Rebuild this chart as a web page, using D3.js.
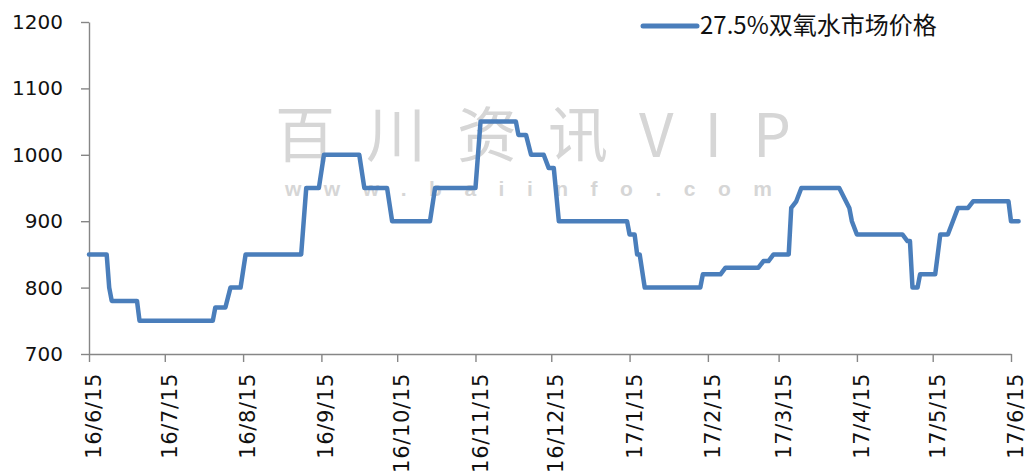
<!DOCTYPE html>
<html>
<head>
<meta charset="utf-8">
<script src="https://cdn.jsdelivr.net/npm/d3@7"></script>
<style>
  body { margin: 0; background: #fff; }
  svg { display: block; }
</style>
</head>
<body>
<div id="chart"></div>
<script>
'use strict';

/* data */
var seriesName = '27.5%双氧水市场价格';
var dates = [
  '2016-06-15', '2016-06-22', '2016-06-23', '2016-06-24', '2016-07-04', '2016-07-05',
  '2016-08-03', '2016-08-04', '2016-08-08', '2016-08-10', '2016-08-14', '2016-08-16',
  '2016-09-07', '2016-09-09', '2016-09-14', '2016-09-16', '2016-09-30', '2016-10-02',
  '2016-10-11', '2016-10-13', '2016-10-28', '2016-10-30', '2016-11-15', '2016-11-17',
  '2016-12-01', '2016-12-02', '2016-12-05', '2016-12-07', '2016-12-12', '2016-12-14',
  '2016-12-16', '2016-12-18', '2017-01-14', '2017-01-15', '2017-01-17', '2017-01-18',
  '2017-01-19', '2017-01-21', '2017-02-12', '2017-02-13', '2017-02-20', '2017-02-22',
  '2017-03-07', '2017-03-09', '2017-03-11', '2017-03-13', '2017-03-19', '2017-03-20',
  '2017-03-22', '2017-03-24', '2017-04-08', '2017-04-12', '2017-04-13', '2017-04-15',
  '2017-05-03', '2017-05-05', '2017-05-06', '2017-05-07', '2017-05-09', '2017-05-10',
  '2017-05-16', '2017-05-18', '2017-05-21', '2017-05-23', '2017-05-25', '2017-05-29',
  '2017-05-31', '2017-06-14', '2017-06-15', '2017-06-18'
];
var prices = [
  850, 850, 800, 780, 780, 750,
  750, 770, 770, 800, 800, 850,
  850, 950, 950, 1000, 1000, 950,
  950, 900, 900, 950, 950, 1050,
  1050, 1030, 1030, 1000, 1000, 980,
  980, 900, 900, 880, 880, 850,
  850, 800, 800, 820, 820, 830,
  830, 840, 840, 850, 850, 920,
  930, 950, 950, 920, 900, 880,
  880, 870, 870, 800, 800, 820,
  820, 880, 880, 900, 920, 920,
  930, 930, 900, 900
];
var xTickDates = [
  '2016-06-15', '2016-07-15', '2016-08-15', '2016-09-15', '2016-10-15', '2016-11-15',
  '2016-12-15', '2017-01-15', '2017-02-15', '2017-03-15', '2017-04-15', '2017-05-15',
  '2017-06-15'
];
var xTickLabels = [
  '16/6/15', '16/7/15', '16/8/15', '16/9/15', '16/10/15', '16/11/15',
  '16/12/15', '17/1/15', '17/2/15', '17/3/15', '17/4/15', '17/5/15', '17/6/15'
];
var yTicks = [700, 800, 900, 1000, 1100, 1200];

var width = 1030;
var height = 474;
var parseDate = d3.timeParse('%Y-%m-%d');
var axisColor = '#868686';
var lineColor = '#4a7ebb';

var svg = d3.select('#chart')
  .append('svg')
  .attr('width', width)
  .attr('height', height);

var x = d3.scaleTime()
  .domain([parseDate(xTickDates[0]), parseDate(xTickDates[xTickDates.length - 1])])
  .range([89, 1011]);

var y = d3.scaleLinear()
  .domain([700, 1200])
  .range([354, 22]);

/* watermark */
var wm = svg.append('g').attr('fill', '#d6d6d6');
wm.append('text')
  .attr('x', 275)
  .attr('y', 157)
  .style('font-family', '"Noto Sans CJK SC", sans-serif')
  .style('font-size', '60px')
  .style('letter-spacing', '31px')
  .text('百川资讯VIP');
wm.append('text')
  .attr('x', 285)
  .attr('y', 196)
  .style('font-family', '"Liberation Sans", Arial, sans-serif')
  .style('font-weight', 'bold')
  .style('font-size', '21px')
  .style('letter-spacing', '22.5px')
  .text('www.baiinfo.com');

/* y axis */
var yAxis = svg.append('g')
  .attr('transform', 'translate(89,0)')
  .call(d3.axisLeft(y)
    .tickValues(yTicks)
    .tickFormat(d3.format('d'))
    .tickSize(8)
    .tickSizeOuter(0)
    .tickPadding(18));
yAxis.selectAll('text')
  .style('font-family', '"DejaVu Sans", Verdana, sans-serif')
  .style('font-size', '20px')
  .attr('fill', '#111');

/* x axis */
var xAxis = svg.append('g')
  .attr('transform', 'translate(0,354)')
  .call(d3.axisBottom(x)
    .tickValues(xTickDates.map(parseDate))
    .tickSize(8)
    .tickSizeOuter(0)
    .tickFormat(function(d, i) { return xTickLabels[i]; }));
xAxis.selectAll('text')
  .attr('transform', 'translate(4,0) rotate(-90)')
  .attr('x', -19)
  .attr('y', 0)
  .attr('dy', '0.36em')
  .attr('text-anchor', 'end')
  .style('font-family', '"DejaVu Sans", Verdana, sans-serif')
  .style('font-size', '21px')
  .style('letter-spacing', '0.7px')
  .attr('fill', '#111');

svg.selectAll('.domain, .tick line')
  .attr('stroke', axisColor)
  .attr('stroke-width', 1.4);

/* price line */
var data = dates.map(function(d, i) {
  return { date: parseDate(d), value: prices[i] };
});

var line = d3.line()
  .x(function(d) { return x(d.date); })
  .y(function(d) { return y(d.value); });

svg.append('path')
  .datum(data)
  .attr('d', line)
  .attr('fill', 'none')
  .attr('stroke', lineColor)
  .attr('stroke-width', 4.5)
  .attr('stroke-linejoin', 'round')
  .attr('stroke-linecap', 'round');

/* legend */
var legend = svg.append('g');
legend.append('line')
  .attr('x1', 643)
  .attr('x2', 697)
  .attr('y1', 26)
  .attr('y2', 26)
  .attr('stroke', lineColor)
  .attr('stroke-width', 5)
  .attr('stroke-linecap', 'round');
legend.append('text')
  .attr('x', 700)
  .attr('y', 34)
  .style('font-family', '"Noto Sans CJK SC", sans-serif')
  .style('font-size', '24px')
  .attr('fill', '#111')
  .text(seriesName);
</script>
</body>
</html>
